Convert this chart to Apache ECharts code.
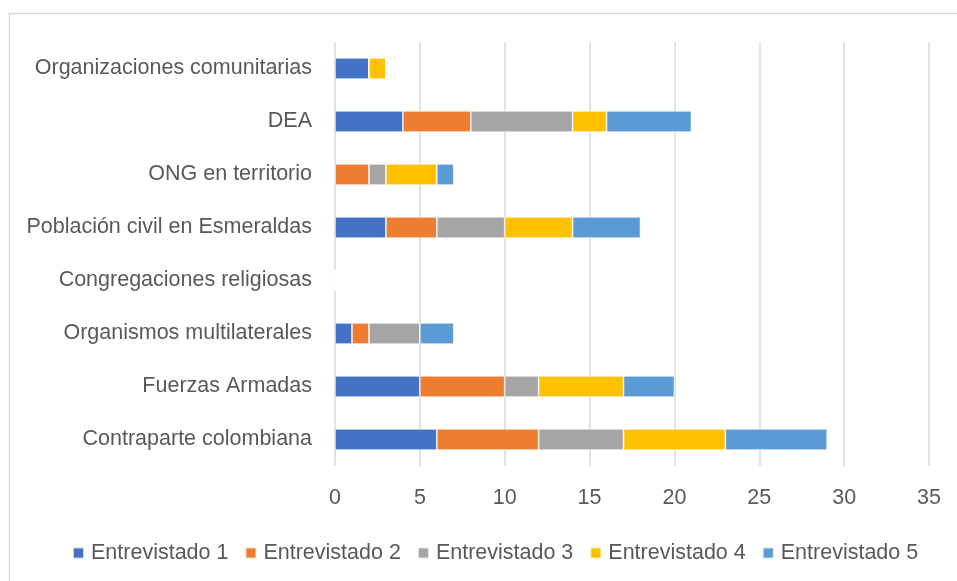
<!DOCTYPE html>
<html>
<head>
<meta charset="utf-8">
<script src="https://cdn.jsdelivr.net/npm/echarts@6/dist/echarts.min.js"></script>
<style>
  html, body { margin: 0; padding: 0; background: #fff; }
  #chart { width: 957px; height: 581px; }
</style>
</head>
<body>
<div id="chart"></div>
<script>
// categorias de abajo hacia arriba
var categories = [
  'Contraparte colombiana',
  'Fuerzas Armadas',
  'Organismos multilaterales',
  'Congregaciones religiosas',
  'Población civil en Esmeraldas',
  'ONG en territorio',
  'DEA',
  'Organizaciones comunitarias'
]
var seriesNames = ['Entrevistado 1', 'Entrevistado 2', 'Entrevistado 3', 'Entrevistado 4', 'Entrevistado 5']
var entrevistado1 = [6, 5, 1, 0, 3, 0, 4, 2]
var entrevistado2 = [6, 5, 1, 0, 3, 2, 4, 0]
var entrevistado3 = [5, 2, 3, 0, 4, 1, 6, 0]
var entrevistado4 = [6, 5, 0, 0, 4, 3, 2, 1]
var entrevistado5 = [6, 3, 2, 0, 4, 1, 5, 0]
var colors = ['#4472c4', '#ed7d31', '#a5a5a5', '#ffc000', '#5b9bd5']

var values = [entrevistado1, entrevistado2, entrevistado3, entrevistado4, entrevistado5]
var fontFam = 'Liberation Sans'

var chart = echarts.init(document.getElementById('chart'))
chart.setOption({
  backgroundColor: '#fff',
  animation: false,
  color: colors,
  graphic: [{
    type: 'rect',
    shape: { x: 9.5, y: 13.5, width: 1200, height: 1200 },
    style: { fill: 'none', stroke: '#d9d9d9', lineWidth: 1.5 },
    silent: true
  }],
  legend: {
    top: 537,
    left: 67,
    itemWidth: 11,
    itemHeight: 11,
    itemGap: 16,
    icon: 'rect',
    textStyle: { color: '#595959', fontSize: 21.5, fontFamily: fontFam, padding: [0, 0, 0, 2] },
    data: seriesNames
  },
  grid: {
    left: 335,
    right: 28,
    top: 42,
    bottom: 115,
    containLabel: false
  },
  xAxis: {
    type: 'value',
    min: 0,
    max: 35,
    interval: 5,
    axisLine: { show: false },
    axisTick: { show: false },
    axisLabel: { color: '#595959', fontSize: 21.5, fontFamily: fontFam, margin: 21 },
    splitLine: { lineStyle: { color: '#d9d9d9', width: 1.5 } }
  },
  yAxis: {
    type: 'category',
    data: categories,
    axisLine: { show: false },
    axisTick: { show: false },
    axisLabel: { color: '#595959', fontSize: 21.5, fontFamily: fontFam, margin: 23 }
  },
  series: seriesNames.map(function(name, i) {
    return {
      name: name,
      type: 'bar',
      stack: 'total',
      barCategoryGap: '60%',
      data: values[i],
      itemStyle: { borderColor: 'rgba(255,255,255,0.7)', borderWidth: 0.8 }
    }
  })
})
</script>
</body>
</html>
